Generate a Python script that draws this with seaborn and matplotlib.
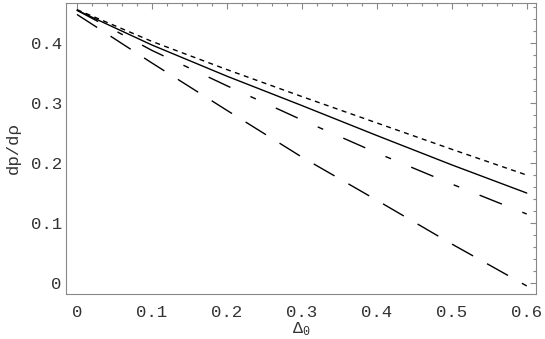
import numpy as np
import pandas as pd
import matplotlib
matplotlib.use("Agg")
import matplotlib.pyplot as plt
from matplotlib.ticker import MultipleLocator, FuncFormatter
import seaborn as sns

# values
delta0 = [0.0, 0.1, 0.2, 0.3, 0.4, 0.5, 0.6]
curve_dotted = [0.456, 0.403, 0.356, 0.311, 0.267, 0.223, 0.180]
curve_solid = [0.455, 0.397, 0.345, 0.296, 0.246, 0.197, 0.150]
curve_dashdot = [0.455, 0.388, 0.329, 0.272, 0.217, 0.165, 0.115]
curve_longdash = [0.448, 0.367, 0.288, 0.210, 0.138, 0.065, -0.005]

sns.set_style("white")
plt.rcParams['font.family'] = ['Liberation Mono', 'DejaVu Sans Mono']
plt.rcParams['mathtext.fontset'] = 'custom'
plt.rcParams['mathtext.rm'] = 'Liberation Mono'
plt.rcParams['mathtext.it'] = 'Liberation Mono'
plt.rcParams['lines.scale_dashes'] = False

fig = plt.figure(figsize=(5.45, 3.39), dpi=100)
ax = fig.add_axes([0.121, 0.133, 0.862, 0.858])

styles = [
    (curve_dotted, (0, (3.6, 3.2))),
    (curve_solid, '-'),
    (curve_dashdot, (0, (17.3, 15.8, 4.3, 15.8))),
    (curve_longdash, (0, (17.3, 11.5))),
]
for vals, ls in styles:
    sns.lineplot(x=delta0, y=vals, ax=ax, color='black', linewidth=1.0, linestyle=ls)

ax.set_xlim(-0.0147, 0.612)
ax.set_ylim(-0.0183, 0.467)

ax.xaxis.set_major_locator(MultipleLocator(0.1))
ax.xaxis.set_minor_locator(MultipleLocator(0.02))
ax.yaxis.set_major_locator(MultipleLocator(0.1))
ax.yaxis.set_minor_locator(MultipleLocator(0.02))
fmt = FuncFormatter(lambda v, p: '0' if abs(v) < 1e-9 else f'{v:.1f}')
ax.xaxis.set_major_formatter(fmt)
ax.yaxis.set_major_formatter(fmt)

ax.tick_params(which='both', direction='in', top=True, right=True, color='#888888', width=0.8)
ax.tick_params(which='major', length=4, labelsize=12.5, labelcolor='#333333')
ax.tick_params(axis='y', which='major', pad=3)
ax.tick_params(axis='x', which='major', pad=8)
ax.tick_params(which='minor', length=2.5)
for s in ax.spines.values():
    s.set_color('#888888')
    s.set_linewidth(0.8)

ax.set_xlabel(r'$\Delta_0$', fontsize=12, labelpad=0, color='#333333')
ax.set_ylabel('dp/d\u03c1', fontsize=12.5, labelpad=7, color='#333333')

fig.savefig('out.png', dpi=100)
